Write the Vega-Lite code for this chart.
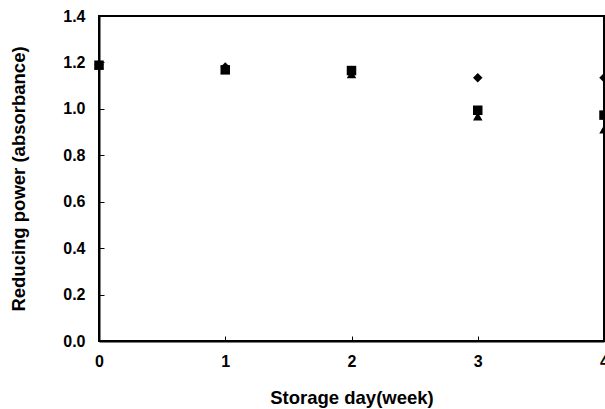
{
  "$schema": "https://vega.github.io/schema/vega-lite/v6.json",
  "autosize": "none",
  "width": 505,
  "height": 325,
  "padding": {"left": 99, "top": 16, "right": 1, "bottom": 68},
  "background": "white",
  "config": {
    "font": "Liberation Sans",
    "view": {"stroke": "black", "strokeWidth": 2},
    "axis": {
      "grid": false,
      "domainColor": "black",
      "domainWidth": 2,
      "tickColor": "black",
      "tickWidth": 1,
      "tickSize": -5,
      "labelFlush": false,
      "labelFont": "Liberation Sans",
      "labelFontSize": 16,
      "labelFontWeight": "bold",
      "labelColor": "black",
      "titleFont": "Liberation Sans",
      "titleFontSize": 18.5,
      "titleFontWeight": "bold",
      "titleColor": "black"
    }
  },
  "data": {
    "values": [
      {"week": 0, "sample": "S1", "power": 1.19},
      {"week": 1, "sample": "S1", "power": 1.18},
      {"week": 2, "sample": "S1", "power": 1.165},
      {"week": 3, "sample": "S1", "power": 1.134},
      {"week": 4, "sample": "S1", "power": 1.134},
      {"week": 0, "sample": "S2", "power": 1.19},
      {"week": 1, "sample": "S2", "power": 1.17},
      {"week": 2, "sample": "S2", "power": 1.15},
      {"week": 3, "sample": "S2", "power": 0.968},
      {"week": 4, "sample": "S2", "power": 0.912},
      {"week": 0, "sample": "S3", "power": 1.188},
      {"week": 1, "sample": "S3", "power": 1.168},
      {"week": 2, "sample": "S3", "power": 1.165},
      {"week": 3, "sample": "S3", "power": 0.994},
      {"week": 4, "sample": "S3", "power": 0.973}
    ]
  },
  "mark": {"type": "point", "filled": true, "color": "black", "opacity": 1, "size": 90},
  "encoding": {
    "x": {
      "field": "week",
      "type": "quantitative",
      "scale": {"domain": [0, 4], "nice": false, "zero": false},
      "axis": {
        "values": [0, 1, 2, 3, 4],
        "format": "d",
        "labelPadding": 17,
        "title": "Storage day(week)",
        "titleBaseline": "alphabetic",
        "titleY": 62
      }
    },
    "y": {
      "field": "power",
      "type": "quantitative",
      "scale": {"domain": [0, 1.4], "nice": false},
      "axis": {
        "values": [0, 0.2, 0.4, 0.6, 0.8, 1.0, 1.2, 1.4],
        "format": ".1f",
        "labelPadding": 19,
        "title": "Reducing power (absorbance)",
        "titleBaseline": "middle",
        "titleX": -81
      }
    },
    "shape": {
      "field": "sample",
      "type": "nominal",
      "scale": {"domain": ["S1", "S2", "S3"], "range": ["diamond", "triangle-up", "square"]},
      "legend": null
    },
    "order": {"field": "sample"}
  }
}
